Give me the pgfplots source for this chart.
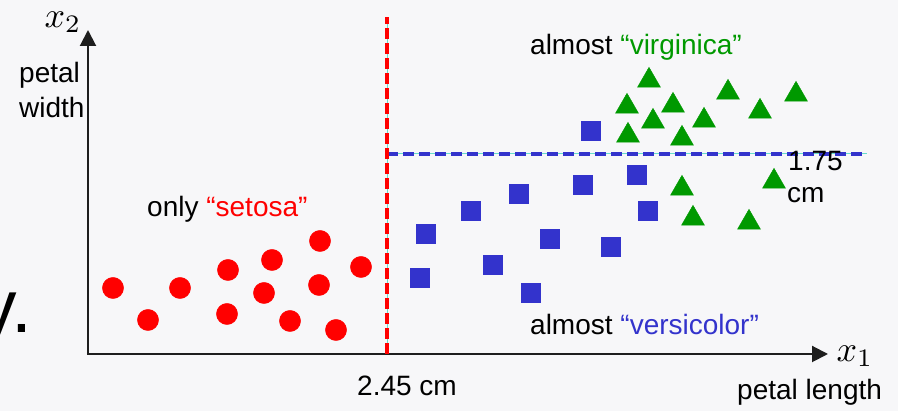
\documentclass[border=0pt]{standalone}
\usepackage{graphicx}
\usepackage{pgfplots}
\pgfplotsset{compat=1.18}
\usetikzlibrary{arrows.meta}
\usepackage{fontspec}
\setmainfont{Liberation Sans}
\definecolor{bg}{RGB}{247,247,249}
\definecolor{myred}{RGB}{255,0,0}
\definecolor{myblue}{RGB}{51,51,204}
\definecolor{mygreen}{RGB}{0,153,0}
\definecolor{tealline}{RGB}{102,221,204}
\definecolor{axcol}{RGB}{30,30,30}
\newcommand\lf{\fontsize{28}{32}\selectfont}
\begin{document}
\begin{tikzpicture}
\begin{axis}[x=1pt, y=1pt, xmin=0, xmax=898, ymin=0, ymax=411,
  hide axis, clip=false]
\fill[bg] (axis cs:0,0) rectangle (axis cs:898,411);
\coordinate (BL) at (axis cs:0,0);
\coordinate (TR) at (axis cs:898,411);
% cropped slide text
\node[anchor=base west, inner sep=0pt] at (axis cs:-21,78) {\fontsize{75}{80}\selectfont y.};
% axes
\draw[axcol, line width=2pt, -{Triangle[width=16pt,length=16pt]}] (axis cs:88,57) -- (axis cs:88,381);
\draw[axcol, line width=2pt, -{Triangle[width=16pt,length=16pt]}] (axis cs:87,57) -- (axis cs:828,57);
% boundaries
\addplot[tealline, line width=1pt] coordinates {(387,257) (867,257)};
\addplot[myblue, line width=4pt, dash pattern=on 11pt off 5pt] coordinates {(387,257) (867,257)};
\addplot[tealline, line width=1pt] coordinates {(387,57) (387,394)};
\addplot[myred, line width=4pt, dash pattern=on 11pt off 4pt] coordinates {(387,57) (387,394)};
% setosa
\addplot[myred, only marks, mark=*, mark size=10.6pt, mark options={fill=myred, draw=myred, line width=0.4pt}] coordinates {
(113,123) (148,91) (180,123) (228,141) (227,97) (272,151) (264,118) (290,90) (320,170) (319,126) (336,81) (361,144)};
% versicolor
\addplot[myblue, only marks, mark=square*, mark size=9.6pt, mark options={fill=myblue, draw=myblue, line width=0.4pt}] coordinates {
(591,280) (637,236) (583,226) (519,217) (471,200) (648,200) (426,177) (550,172) (611,164) (493,146) (420,133) (531,118)};
% virginica
\addplot[mygreen, only marks, mark=triangle*, mark size=13.2pt, mark options={fill=mygreen, draw=mygreen, line width=0.4pt}] coordinates {
(649,330.5) (627,304.5) (673,305.5) (728,318.5) (796,316.5) (760,299.5) (653,289.5) (704,290.5) (628,275.5) (682,272.5) (682,222.5) (774,229.5) (693,192.5) (749,188.5)};
% labels
\node[inner sep=0pt] at (axis cs:63,389) {\scalebox{3.6}{$x_2$}};
\node[inner sep=0pt] at (axis cs:855,55) {\scalebox{3.6}{$x_1$}};
\node[anchor=base west, inner sep=0pt] at (axis cs:19,328) {\lf petal};
\node[anchor=base west, inner sep=0pt] at (axis cs:19,293) {\lf width};
\node[anchor=base west, inner sep=0pt] at (axis cs:737,11) {\lf petal length};
\node[anchor=base west, inner sep=0pt] at (axis cs:357,15) {\lf 2.45 cm};
\node[anchor=base west, inner sep=0pt] at (axis cs:788,240) {\lf 1.75};
\node[anchor=base west, inner sep=0pt] at (axis cs:787,208) {\lf cm};
\node[anchor=base west, inner sep=0pt] at (axis cs:147,194) {\lf only \textcolor{myred}{“setosa”}};
\node[anchor=base west, inner sep=0pt] at (axis cs:530,356) {\lf almost \textcolor{mygreen}{“virginica”}};
\node[anchor=base west, inner sep=0pt] at (axis cs:530,76) {\lf almost \textcolor{myblue}{“versicolor”}};
\end{axis}
\pgfresetboundingbox
\path[use as bounding box] (BL) rectangle (TR);
\end{tikzpicture}
\end{document}
